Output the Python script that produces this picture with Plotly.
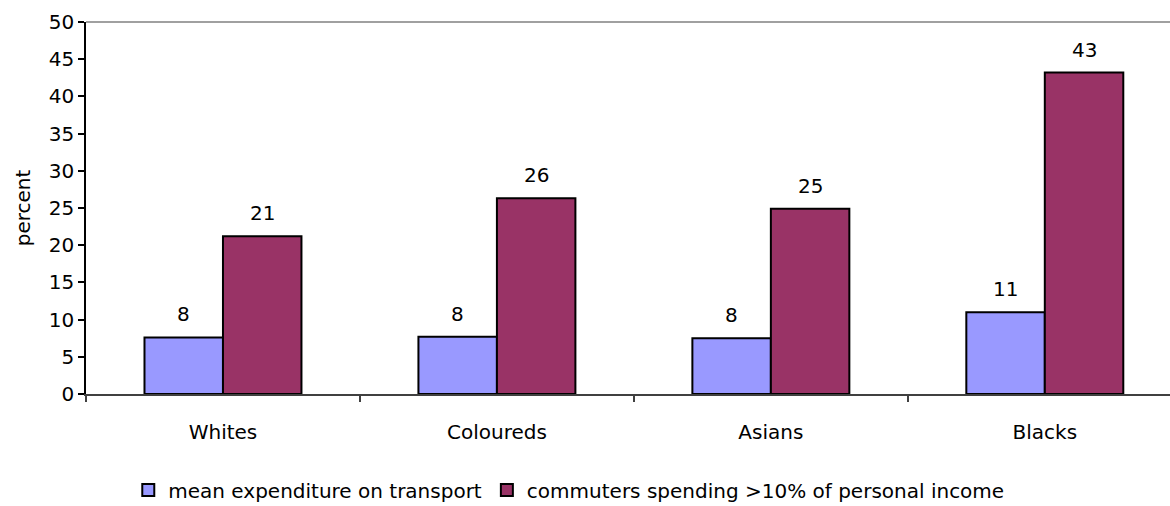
import plotly.graph_objects as go

categories = ["Whites", "Coloureds", "Asians", "Blacks"]
mean_expenditure = [7.6, 7.7, 7.5, 11.0]
commuters_over_10 = [21.2, 26.3, 24.9, 43.2]
series_names = ["mean expenditure on transport", "commuters spending >10% of personal income"]
y_ticks = [0, 5, 10, 15, 20, 25, 30, 35, 40, 45, 50]

FONT = "DejaVu Sans, Liberation Sans, Arial, sans-serif"
FS = 20
BARGAP = 0.427
colors = ["#9999FF", "#993366"]

fig = go.Figure()
for name, vals, col in zip(series_names, [mean_expenditure, commuters_over_10], colors):
    fig.add_trace(go.Bar(
        x=categories, y=vals, name=name,
        marker=dict(color=col, line=dict(color="black", width=2)),
    ))

# value labels above bars
half = (1 - BARGAP) / 4
for s, vals in enumerate([mean_expenditure, commuters_over_10]):
    off = -half if s == 0 else half
    for i, v in enumerate(vals):
        fig.add_annotation(
            x=i + off, y=v, text=f"{v:.0f}", showarrow=False,
            yanchor="bottom", yshift=9, font=dict(family=FONT, size=FS, color="black"),
        )

# plot area top border
fig.add_shape(type="line", xref="paper", yref="paper", x0=0, x1=1, y0=1, y1=1,
              line=dict(color="#808080", width=1.5))

fig.update_layout(
    width=1170, height=506,
    margin=dict(l=86, r=0, t=22, b=112, autoexpand=False),
    paper_bgcolor="white", plot_bgcolor="white",
    barmode="group", bargap=BARGAP, bargroupgap=0,
    font=dict(family=FONT, size=FS, color="black"),
    showlegend=True,
    legend=dict(orientation="h", x=0.039, xanchor="left", y=-0.258, yanchor="middle",
                font=dict(family=FONT, size=FS), itemwidth=30,
                tracegroupgap=0),
)
fig.update_xaxes(
    range=[-0.5, 3.457], showline=True, linecolor="#404040", linewidth=1.5,
    ticks="outside", tickson="boundaries", ticklen=6, tickcolor="#404040", tickwidth=1.5,
    showgrid=False, tickfont=dict(family=FONT, size=FS), ticklabelstandoff=19,
)
fig.update_yaxes(
    range=[0, 50], tickvals=y_ticks, showline=True, linecolor="black", linewidth=1.5,
    ticks="outside", ticklen=6, tickcolor="black", tickwidth=1.5,
    showgrid=False, zeroline=False,
    title=dict(text="percent", font=dict(family=FONT, size=FS), standoff=13),
    tickfont=dict(family=FONT, size=FS),
)

fig.write_html("out.html")
